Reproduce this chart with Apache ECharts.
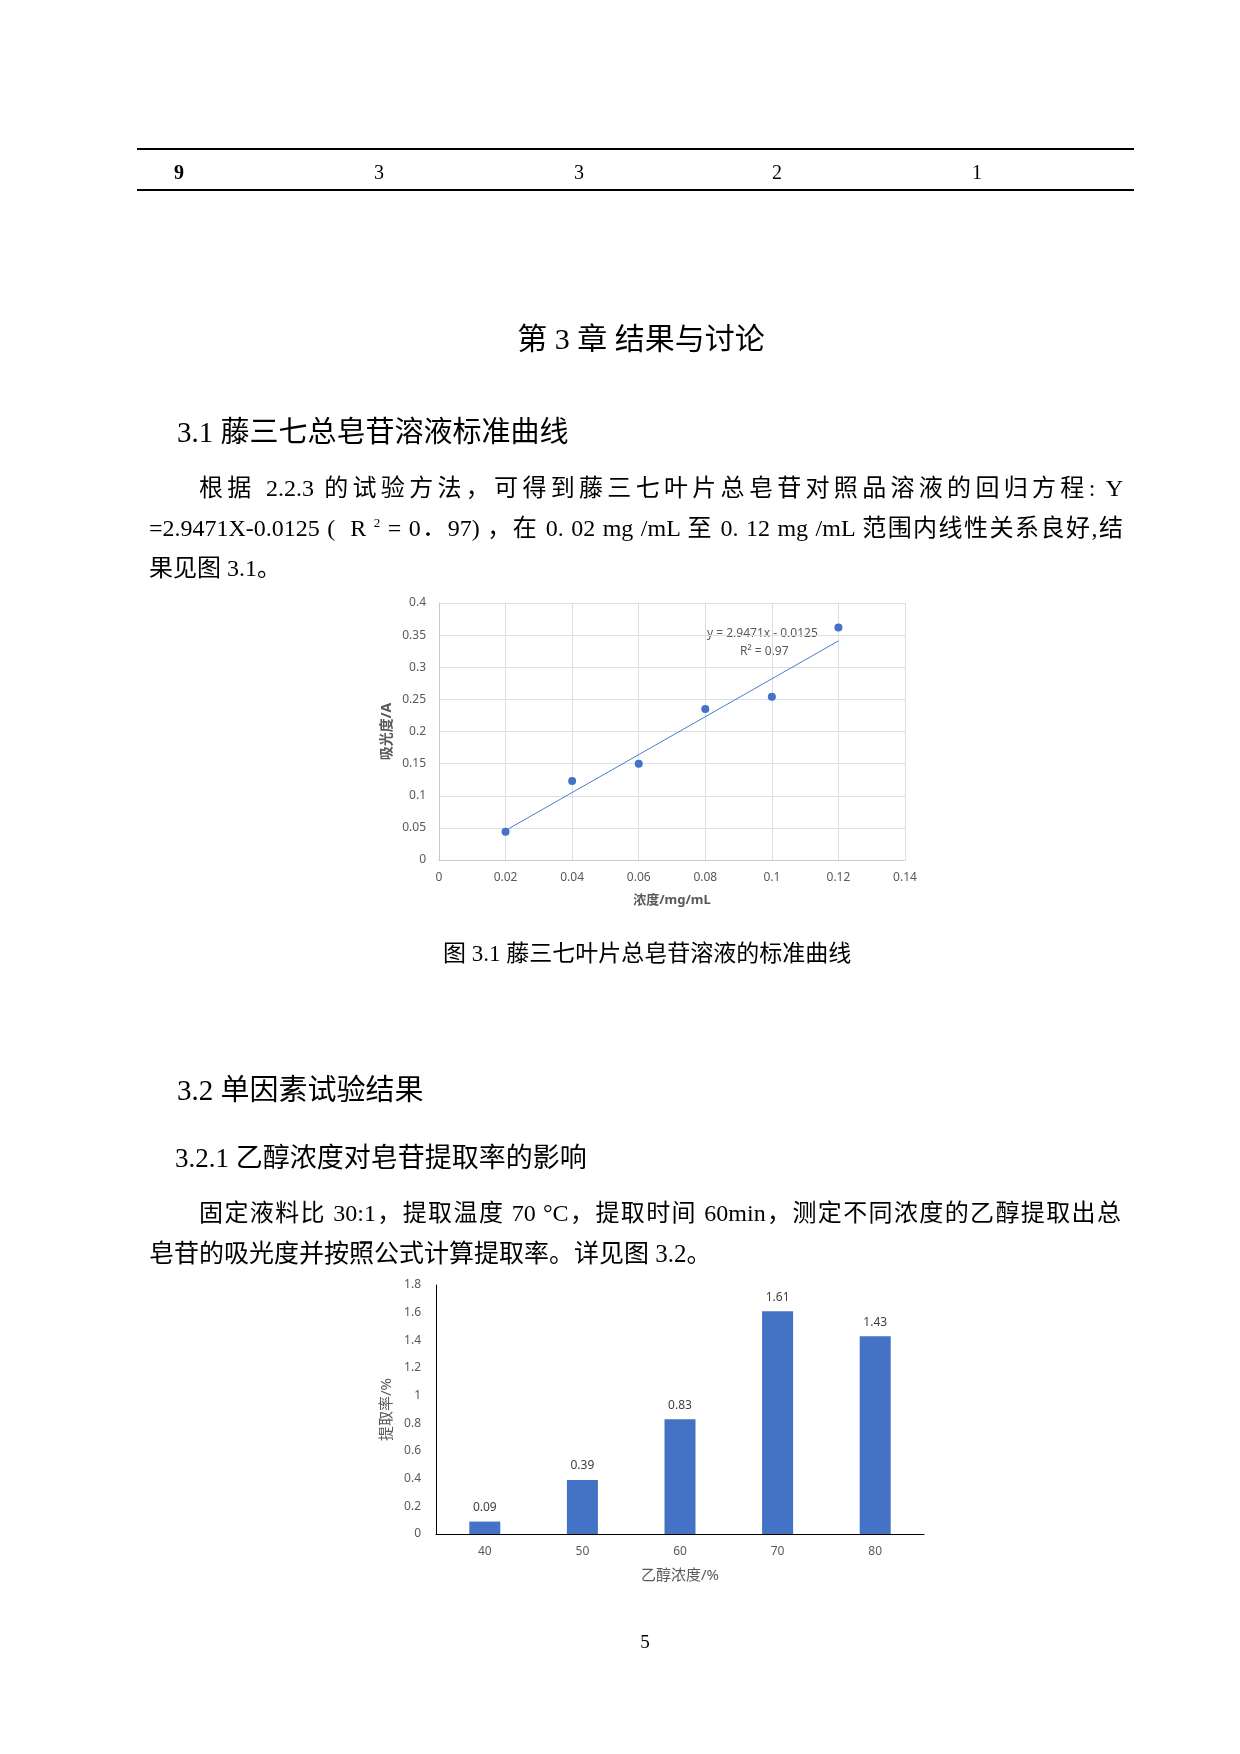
<!DOCTYPE html>
<html>
<head>
<meta charset="utf-8">
<script src="https://cdn.jsdelivr.net/npm/echarts@6/dist/echarts.min.js"></script>
<style>
  html, body { margin:0; padding:0; background:#fff; }
  #page { position:relative; width:1240px; height:1754px; overflow:hidden; background:#fff; }
  #chart { position:absolute; left:0; top:0; width:1240px; height:1754px; }
  .t { position:absolute; white-space:nowrap; color:#000;
       font-family:"Liberation Serif","Noto Sans CJK SC",serif; }
  .rule { position:absolute; left:137px; width:997px; height:2px; background:#000; }
  .line { position:absolute; left:149px; width:974px; height:32px; line-height:32px; font-size:24px; }
  .just { text-align:justify; text-align-last:justify; }
  sup { font-size:13px; vertical-align:9px; line-height:0; }
</style>
</head>
<body>
<div id="page">
  <div id="chart"></div>

  <div class="rule" style="top:148px;"></div>
  <div class="rule" style="top:189px;"></div>
  <div class="t" style="left:174px;top:160px;font-size:20px;line-height:24px;font-weight:bold;">9</div>
  <div class="t" style="left:374px;top:160px;font-size:20px;line-height:24px;">3</div>
  <div class="t" style="left:574px;top:160px;font-size:20px;line-height:24px;">3</div>
  <div class="t" style="left:772px;top:160px;font-size:20px;line-height:24px;">2</div>
  <div class="t" style="left:972px;top:160px;font-size:20px;line-height:24px;">1</div>

  <div class="t" style="left:0;width:1282px;text-align:center;top:321px;height:36px;line-height:36px;font-size:30px;">第 3 章 结果与讨论</div>

  <div class="t" style="left:177px;top:414px;height:36px;line-height:36px;font-size:29px;">3.1 藤三七总皂苷溶液标准曲线</div>

  <div class="t line just" style="left:199px;width:924px;top:472px;">根据 2.2.3 的试验方法，可得到藤三七叶片总皂苷对照品溶液的回归方程: Y</div>
  <div class="t line just" style="top:512px;">=2.9471X-0.0125 ( &nbsp;R <sup>2</sup> = 0．97) ，在 0. 02 mg /mL 至 0. 12 mg /mL 范围内线性关系良好,结</div>
  <div class="t line" style="top:552px;">果见图 3.1。</div>

  <div class="t" style="left:0;width:1294px;text-align:center;top:939px;height:30px;line-height:30px;font-size:23px;">图 3.1 藤三七叶片总皂苷溶液的标准曲线</div>

  <div class="t" style="left:177px;top:1072px;height:36px;line-height:36px;font-size:29px;">3.2 单因素试验结果</div>
  <div class="t" style="left:175px;top:1141px;height:34px;line-height:34px;font-size:27px;">3.2.1 乙醇浓度对皂苷提取率的影响</div>

  <div class="t line just" style="left:199px;width:922px;top:1197px;">固定液料比 30:1，提取温度 70 °C，提取时间 60min，测定不同浓度的乙醇提取出总</div>
  <div class="t line" style="top:1238px;font-size:25px;">皂苷的吸光度并按照公式计算提取率。详见图 3.2。</div>

  <div class="t" style="left:0;width:1290px;text-align:center;top:1630px;height:24px;line-height:24px;font-size:19px;">5</div>
</div>

<script>
// ---- Figure 3.1 : standard curve ----
const concentration = [0.02, 0.04, 0.06, 0.08, 0.10, 0.12];
const absorbance    = [0.044, 0.123, 0.150, 0.235, 0.254, 0.362];
const trendX = [0.02, 0.12];
const trendY = [0.046, 0.341];
const equationText = ['y = 2.9471x - 0.0125', 'R² = 0.97'];

// ---- Figure 3.2 : ethanol concentration vs extraction rate ----
const ethanolConc = ['40', '50', '60', '70', '80'];
const extractionRate = [0.09, 0.39, 0.83, 1.61, 1.43];

const chart = echarts.init(document.getElementById('chart'), null, {renderer: 'canvas'});
const lblFont = '"Noto Sans","Noto Sans CJK SC",sans-serif';
const gray = '#595959';

chart.setOption({
  animation: false,
  textStyle: { fontFamily: lblFont },
  grid: [
    { left: 439, top: 603, width: 466, height: 257 },
    { left: 436, top: 1285, width: 488, height: 249 }
  ],
  xAxis: [
    {
      gridIndex: 0, type: 'value', min: 0, max: 0.14, interval: 0.02,
      axisLine: { show: true, lineStyle: { color: '#c4c9d2', width: 1 } },
      axisTick: { show: false },
      splitLine: { show: true, lineStyle: { color: '#dcdfe5', width: 1 } },
      axisLabel: { color: gray, fontSize: 12, margin: 12 },
      name: '浓度/mg/mL', nameLocation: 'middle', nameGap: 34,
      nameTextStyle: { color: gray, fontSize: 13, fontWeight: 'bold' }
    },
    {
      gridIndex: 1, type: 'category', data: ethanolConc,
      axisLine: { show: true, lineStyle: { color: '#000', width: 1 } },
      axisTick: { show: false },
      axisLabel: { color: gray, fontSize: 12, margin: 12 },
      name: '乙醇浓度/%', nameLocation: 'middle', nameGap: 34,
      nameTextStyle: { color: gray, fontSize: 15 }
    }
  ],
  yAxis: [
    {
      gridIndex: 0, type: 'value', min: 0, max: 0.4, interval: 0.05,
      axisLine: { show: true, lineStyle: { color: '#c4c9d2', width: 1 } },
      axisTick: { show: false },
      splitLine: { show: true, lineStyle: { color: '#dcdfe5', width: 1 } },
      axisLabel: { color: gray, fontSize: 12, margin: 13 },
      name: '吸光度/A', nameLocation: 'middle', nameRotate: 90, nameGap: 45,
      nameTextStyle: { color: gray, fontSize: 14, fontWeight: 'bold' }
    },
    {
      gridIndex: 1, type: 'value', min: 0, max: 1.8, interval: 0.2,
      axisLine: { show: true, lineStyle: { color: '#000', width: 1 } },
      axisTick: { show: false },
      splitLine: { show: false },
      axisLabel: { color: gray, fontSize: 12, margin: 15 },
      name: '提取率/%', nameLocation: 'middle', nameRotate: 90, nameGap: 42,
      nameTextStyle: { color: gray, fontSize: 15 }
    }
  ],
  series: [
    {
      type: 'line', xAxisIndex: 0, yAxisIndex: 0,
      data: trendX.map((x, i) => [x, trendY[i]]),
      showSymbol: false, silent: true,
      lineStyle: { color: '#4a7ccf', width: 1 }
    },
    {
      type: 'scatter', xAxisIndex: 0, yAxisIndex: 0,
      data: concentration.map((x, i) => [x, absorbance[i]]),
      symbolSize: 8,
      itemStyle: { color: '#4472c4', opacity: 1 }
    },
    {
      type: 'bar', xAxisIndex: 1, yAxisIndex: 1,
      data: extractionRate, barWidth: 31,
      itemStyle: { color: '#4472c4' },
      label: { show: true, position: 'top', distance: 8, color: '#404040', fontSize: 12 }
    }
  ],
  graphic: [
    { type: 'text', left: 707, top: 628, style: { text: equationText[0], fill: gray, font: '12px ' + lblFont } },
    { type: 'text', left: 740, top: 646, style: { text: equationText[1], fill: gray, font: '12px ' + lblFont } }
  ]
});
</script>
</body>
</html>
